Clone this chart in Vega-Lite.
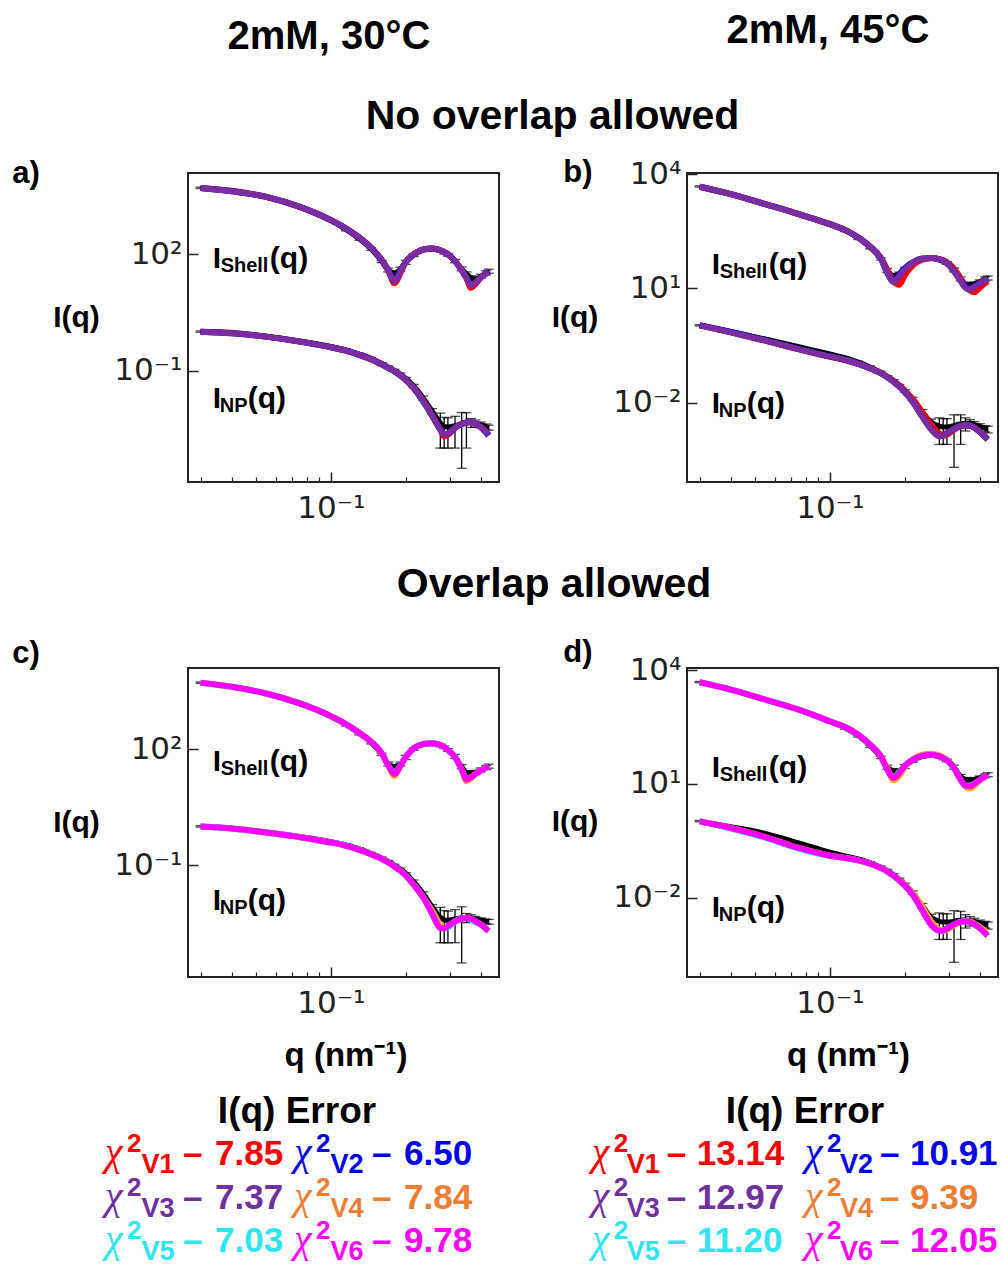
{
  "$schema": "https://vega.github.io/schema/vega-lite/v6.json",
  "background": "white",
  "padding": {"left": 10, "top": 9, "right": 2, "bottom": 2},
  "config": {
    "view": {"stroke": "#222", "strokeWidth": 2},
    "axis": {"grid": false, "domain": false, "labelFont": "DejaVu Sans", "labelFontSize": 31, "labelColor": "#222", "tickColor": "#222", "titleFont": "Liberation Sans", "titleFontWeight": "bold", "titleColor": "black", "titleLimit": 1000, "labelOverlap": false, "labelFlush": false, "labelBound": false},
    "text": {"font": "Liberation Sans", "fontWeight": "bold", "color": "black"}
  },
  "datasets": {
    "a": [
      {"c":"S","s":"V1","q":0.03,"I":5224},{"c":"S","s":"V1","q":0.04,"I":4400},{"c":"S","s":"V1","q":0.055,"I":3062},{"c":"S","s":"V1","q":0.075,"I":1694},{"c":"S","s":"V1","q":0.1,"I":767},{"c":"S","s":"V1","q":0.115,"I":468},{"c":"S","s":"V1","q":0.13,"I":274},{"c":"S","s":"V1","q":0.145,"I":151},{"c":"S","s":"V1","q":0.16,"I":71.4},{"c":"S","s":"V1","q":0.17,"I":37.5},{"c":"S","s":"V1","q":0.18,"I":18},{"c":"S","s":"V1","q":0.19,"I":32.5},{"c":"S","s":"V1","q":0.2,"I":64.7},{"c":"S","s":"V1","q":0.215,"I":100},{"c":"S","s":"V1","q":0.235,"I":135},{"c":"S","s":"V1","q":0.255,"I":143},{"c":"S","s":"V1","q":0.275,"I":129},{"c":"S","s":"V1","q":0.285,"I":115},{"c":"S","s":"V1","q":0.295,"I":100},{"c":"S","s":"V1","q":0.315,"I":67.3},{"c":"S","s":"V1","q":0.335,"I":39.4},{"c":"S","s":"V1","q":0.35,"I":24},{"c":"S","s":"V1","q":0.365,"I":13.8},{"c":"S","s":"V1","q":0.38,"I":17},{"c":"S","s":"V1","q":0.4,"I":25.5},{"c":"S","s":"V1","q":0.42,"I":32.4},{"c":"S","s":"V1","q":0.43,"I":35.7},
      {"c":"S","s":"V2","q":0.03,"I":5224},{"c":"S","s":"V2","q":0.04,"I":4285},{"c":"S","s":"V2","q":0.055,"I":3062},{"c":"S","s":"V2","q":0.075,"I":1694},{"c":"S","s":"V2","q":0.1,"I":767},{"c":"S","s":"V2","q":0.115,"I":468},{"c":"S","s":"V2","q":0.13,"I":274},{"c":"S","s":"V2","q":0.145,"I":151},{"c":"S","s":"V2","q":0.16,"I":71.4},{"c":"S","s":"V2","q":0.17,"I":39.4},{"c":"S","s":"V2","q":0.18,"I":21.5},{"c":"S","s":"V2","q":0.19,"I":38.5},{"c":"S","s":"V2","q":0.2,"I":64.7},{"c":"S","s":"V2","q":0.215,"I":100},{"c":"S","s":"V2","q":0.235,"I":135},{"c":"S","s":"V2","q":0.255,"I":143},{"c":"S","s":"V2","q":0.275,"I":129},{"c":"S","s":"V2","q":0.285,"I":115},{"c":"S","s":"V2","q":0.295,"I":100},{"c":"S","s":"V2","q":0.315,"I":67.3},{"c":"S","s":"V2","q":0.335,"I":39.4},{"c":"S","s":"V2","q":0.35,"I":25.5},{"c":"S","s":"V2","q":0.365,"I":16.8},{"c":"S","s":"V2","q":0.38,"I":18.6},{"c":"S","s":"V2","q":0.4,"I":25.5},{"c":"S","s":"V2","q":0.42,"I":32.4},{"c":"S","s":"V2","q":0.43,"I":37},
      {"c":"S","s":"V3","q":0.03,"I":5224},{"c":"S","s":"V3","q":0.04,"I":4285},{"c":"S","s":"V3","q":0.055,"I":3062},{"c":"S","s":"V3","q":0.075,"I":1694},{"c":"S","s":"V3","q":0.1,"I":767},{"c":"S","s":"V3","q":0.115,"I":468},{"c":"S","s":"V3","q":0.13,"I":274},{"c":"S","s":"V3","q":0.145,"I":151},{"c":"S","s":"V3","q":0.16,"I":71.4},{"c":"S","s":"V3","q":0.17,"I":39.4},{"c":"S","s":"V3","q":0.18,"I":20.4},{"c":"S","s":"V3","q":0.19,"I":35.7},{"c":"S","s":"V3","q":0.2,"I":64.7},{"c":"S","s":"V3","q":0.215,"I":100},{"c":"S","s":"V3","q":0.235,"I":135},{"c":"S","s":"V3","q":0.255,"I":143},{"c":"S","s":"V3","q":0.275,"I":129},{"c":"S","s":"V3","q":0.285,"I":115},{"c":"S","s":"V3","q":0.295,"I":100},{"c":"S","s":"V3","q":0.315,"I":67.3},{"c":"S","s":"V3","q":0.335,"I":39.4},{"c":"S","s":"V3","q":0.35,"I":25.5},{"c":"S","s":"V3","q":0.365,"I":15.8},{"c":"S","s":"V3","q":0.38,"I":18.6},{"c":"S","s":"V3","q":0.4,"I":25.5},{"c":"S","s":"V3","q":0.42,"I":32.4},{"c":"S","s":"V3","q":0.43,"I":35.7},
      {"c":"S","s":"exp","q":0.03,"I":5250,"e":210},{"c":"S","s":"exp","q":0.04,"I":4300,"e":172},{"c":"S","s":"exp","q":0.055,"I":3050,"e":122},{"c":"S","s":"exp","q":0.075,"I":1690,"e":68},{"c":"S","s":"exp","q":0.1,"I":745,"e":30},{"c":"S","s":"exp","q":0.115,"I":437,"e":31},{"c":"S","s":"exp","q":0.13,"I":251,"e":18},{"c":"S","s":"exp","q":0.145,"I":138,"e":10},{"c":"S","s":"exp","q":0.16,"I":66,"e":4.6},{"c":"S","s":"exp","q":0.17,"I":40,"e":4.8},{"c":"S","s":"exp","q":0.18,"I":33,"e":4},{"c":"S","s":"exp","q":0.19,"I":41.7,"e":5},{"c":"S","s":"exp","q":0.2,"I":63,"e":7.6},{"c":"S","s":"exp","q":0.215,"I":95.5,"e":7.6},{"c":"S","s":"exp","q":0.235,"I":129,"e":10.3},{"c":"S","s":"exp","q":0.255,"I":138,"e":11},{"c":"S","s":"exp","q":0.275,"I":126,"e":10},{"c":"S","s":"exp","q":0.285,"I":112,"e":9},{"c":"S","s":"exp","q":0.295,"I":98,"e":7.8},{"c":"S","s":"exp","q":0.315,"I":67.6,"e":6.8},{"c":"S","s":"exp","q":0.335,"I":42.7,"e":5.1},{"c":"S","s":"exp","q":0.35,"I":31.6,"e":3.8},{"c":"S","s":"exp","q":0.365,"I":25.1,"e":3},{"c":"S","s":"exp","q":0.38,"I":23.4,"e":2.8},{"c":"S","s":"exp","q":0.4,"I":27.5,"e":3.3},{"c":"S","s":"exp","q":0.42,"I":33.9,"e":4.1},{"c":"S","s":"exp","q":0.43,"I":37.2,"e":4.5},
      {"c":"N","s":"V1","q":0.03,"I":1.016},{"c":"N","s":"V1","q":0.04,"I":0.95},{"c":"N","s":"V1","q":0.055,"I":0.755},{"c":"N","s":"V1","q":0.075,"I":0.561},{"c":"N","s":"V1","q":0.1,"I":0.401},{"c":"N","s":"V1","q":0.115,"I":0.329},{"c":"N","s":"V1","q":0.13,"I":0.255},{"c":"N","s":"V1","q":0.145,"I":0.197},{"c":"N","s":"V1","q":0.16,"I":0.1445},{"c":"N","s":"V1","q":0.17,"I":0.1175},{"c":"N","s":"V1","q":0.18,"I":0.0955},{"c":"N","s":"V1","q":0.19,"I":0.0759},{"c":"N","s":"V1","q":0.2,"I":0.0575},{"c":"N","s":"V1","q":0.215,"I":0.0355},{"c":"N","s":"V1","q":0.235,"I":0.0166},{"c":"N","s":"V1","q":0.255,"I":0.00692},{"c":"N","s":"V1","q":0.275,"I":0.00302},{"c":"N","s":"V1","q":0.285,"I":0.002},{"c":"N","s":"V1","q":0.295,"I":0.0022},{"c":"N","s":"V1","q":0.315,"I":0.00331},{"c":"N","s":"V1","q":0.335,"I":0.00417},{"c":"N","s":"V1","q":0.35,"I":0.00457},{"c":"N","s":"V1","q":0.365,"I":0.00468},{"c":"N","s":"V1","q":0.38,"I":0.00437},{"c":"N","s":"V1","q":0.4,"I":0.00347},{"c":"N","s":"V1","q":0.42,"I":0.00263},{"c":"N","s":"V1","q":0.43,"I":0.00224},
      {"c":"N","s":"V2","q":0.03,"I":1.016},{"c":"N","s":"V2","q":0.04,"I":0.92},{"c":"N","s":"V2","q":0.055,"I":0.755},{"c":"N","s":"V2","q":0.075,"I":0.561},{"c":"N","s":"V2","q":0.1,"I":0.401},{"c":"N","s":"V2","q":0.115,"I":0.329},{"c":"N","s":"V2","q":0.13,"I":0.255},{"c":"N","s":"V2","q":0.145,"I":0.197},{"c":"N","s":"V2","q":0.16,"I":0.1445},{"c":"N","s":"V2","q":0.17,"I":0.1175},{"c":"N","s":"V2","q":0.18,"I":0.0955},{"c":"N","s":"V2","q":0.19,"I":0.0759},{"c":"N","s":"V2","q":0.2,"I":0.0575},{"c":"N","s":"V2","q":0.215,"I":0.0355},{"c":"N","s":"V2","q":0.235,"I":0.0158},{"c":"N","s":"V2","q":0.255,"I":0.00692},{"c":"N","s":"V2","q":0.275,"I":0.00302},{"c":"N","s":"V2","q":0.285,"I":0.00224},{"c":"N","s":"V2","q":0.295,"I":0.0024},{"c":"N","s":"V2","q":0.315,"I":0.00331},{"c":"N","s":"V2","q":0.335,"I":0.00417},{"c":"N","s":"V2","q":0.35,"I":0.00457},{"c":"N","s":"V2","q":0.365,"I":0.00468},{"c":"N","s":"V2","q":0.38,"I":0.00437},{"c":"N","s":"V2","q":0.4,"I":0.00347},{"c":"N","s":"V2","q":0.42,"I":0.0025},{"c":"N","s":"V2","q":0.43,"I":0.0021},
      {"c":"N","s":"V3","q":0.03,"I":1.016},{"c":"N","s":"V3","q":0.04,"I":0.92},{"c":"N","s":"V3","q":0.055,"I":0.755},{"c":"N","s":"V3","q":0.075,"I":0.561},{"c":"N","s":"V3","q":0.1,"I":0.401},{"c":"N","s":"V3","q":0.115,"I":0.329},{"c":"N","s":"V3","q":0.13,"I":0.255},{"c":"N","s":"V3","q":0.145,"I":0.197},{"c":"N","s":"V3","q":0.16,"I":0.1445},{"c":"N","s":"V3","q":0.17,"I":0.1175},{"c":"N","s":"V3","q":0.18,"I":0.0955},{"c":"N","s":"V3","q":0.19,"I":0.0759},{"c":"N","s":"V3","q":0.2,"I":0.0575},{"c":"N","s":"V3","q":0.215,"I":0.0355},{"c":"N","s":"V3","q":0.235,"I":0.0166},{"c":"N","s":"V3","q":0.255,"I":0.00692},{"c":"N","s":"V3","q":0.275,"I":0.00302},{"c":"N","s":"V3","q":0.285,"I":0.00224},{"c":"N","s":"V3","q":0.295,"I":0.0024},{"c":"N","s":"V3","q":0.315,"I":0.00331},{"c":"N","s":"V3","q":0.335,"I":0.00417},{"c":"N","s":"V3","q":0.35,"I":0.00457},{"c":"N","s":"V3","q":0.365,"I":0.00468},{"c":"N","s":"V3","q":0.38,"I":0.00437},{"c":"N","s":"V3","q":0.4,"I":0.00347},{"c":"N","s":"V3","q":0.42,"I":0.00263},{"c":"N","s":"V3","q":0.43,"I":0.00224},
      {"c":"N","s":"exp","q":0.03,"I":1.02,"e":0.041},{"c":"N","s":"exp","q":0.04,"I":0.93,"e":0.037},{"c":"N","s":"exp","q":0.055,"I":0.77,"e":0.031},{"c":"N","s":"exp","q":0.075,"I":0.58,"e":0.023},{"c":"N","s":"exp","q":0.1,"I":0.42,"e":0.017},{"c":"N","s":"exp","q":0.115,"I":0.345,"e":0.021},{"c":"N","s":"exp","q":0.13,"I":0.268,"e":0.016},{"c":"N","s":"exp","q":0.145,"I":0.207,"e":0.012},{"c":"N","s":"exp","q":0.16,"I":0.152,"e":0.009},{"c":"N","s":"exp","q":0.17,"I":0.125,"e":0.0075},{"c":"N","s":"exp","q":0.18,"I":0.102,"e":0.006},{"c":"N","s":"exp","q":0.19,"I":0.082,"e":0.005},{"c":"N","s":"exp","q":0.2,"I":0.063,"e":0.0038},{"c":"N","s":"exp","q":0.215,"I":0.04,"e":0.004},{"c":"N","s":"exp","q":0.235,"I":0.0195,"e":0.0025},{"c":"N","s":"exp","q":0.255,"I":0.009,"e":0.0014},{"c":"N","s":"exp","q":0.275,"I":0.0045,"e":0.0035},{"c":"N","s":"exp","q":0.285,"I":0.0036,"e":0.0026},{"c":"N","s":"exp","q":0.295,"I":0.0035,"e":0.0025},{"c":"N","s":"exp","q":0.315,"I":0.0038,"e":0.0028},{"c":"N","s":"exp","q":0.335,"I":0.0043,"e":0.004},{"c":"N","s":"exp","q":0.35,"I":0.0046,"e":0.0036},{"c":"N","s":"exp","q":0.365,"I":0.0046,"e":0.0012},{"c":"N","s":"exp","q":0.38,"I":0.0044,"e":0.0009},{"c":"N","s":"exp","q":0.4,"I":0.004,"e":0.0007},{"c":"N","s":"exp","q":0.42,"I":0.0036,"e":0.0006},{"c":"N","s":"exp","q":0.43,"I":0.0034,"e":0.0005}
    ],
    "b": [
      {"c":"S","s":"V1","q":0.03,"I":4721},{"c":"S","s":"V1","q":0.04,"I":3020},{"c":"S","s":"V1","q":0.055,"I":1644},{"c":"S","s":"V1","q":0.075,"I":897},{"c":"S","s":"V1","q":0.1,"I":489},{"c":"S","s":"V1","q":0.115,"I":347},{"c":"S","s":"V1","q":0.13,"I":219},{"c":"S","s":"V1","q":0.145,"I":126},{"c":"S","s":"V1","q":0.16,"I":65},{"c":"S","s":"V1","q":0.17,"I":31.6},{"c":"S","s":"V1","q":0.18,"I":15.5},{"c":"S","s":"V1","q":0.19,"I":12.6},{"c":"S","s":"V1","q":0.2,"I":22.4},{"c":"S","s":"V1","q":0.215,"I":40},{"c":"S","s":"V1","q":0.235,"I":57},{"c":"S","s":"V1","q":0.255,"I":62},{"c":"S","s":"V1","q":0.275,"I":59.5},{"c":"S","s":"V1","q":0.285,"I":55},{"c":"S","s":"V1","q":0.295,"I":49},{"c":"S","s":"V1","q":0.315,"I":33},{"c":"S","s":"V1","q":0.335,"I":18.5},{"c":"S","s":"V1","q":0.35,"I":11.5},{"c":"S","s":"V1","q":0.365,"I":8.9},{"c":"S","s":"V1","q":0.38,"I":8},{"c":"S","s":"V1","q":0.4,"I":10.5},{"c":"S","s":"V1","q":0.42,"I":13.8},{"c":"S","s":"V1","q":0.43,"I":15.5},
      {"c":"S","s":"V2","q":0.03,"I":4721},{"c":"S","s":"V2","q":0.04,"I":3020},{"c":"S","s":"V2","q":0.055,"I":1644},{"c":"S","s":"V2","q":0.075,"I":897},{"c":"S","s":"V2","q":0.1,"I":489},{"c":"S","s":"V2","q":0.115,"I":347},{"c":"S","s":"V2","q":0.13,"I":219},{"c":"S","s":"V2","q":0.145,"I":126},{"c":"S","s":"V2","q":0.16,"I":62},{"c":"S","s":"V2","q":0.17,"I":26},{"c":"S","s":"V2","q":0.18,"I":15.5},{"c":"S","s":"V2","q":0.19,"I":24},{"c":"S","s":"V2","q":0.2,"I":34},{"c":"S","s":"V2","q":0.215,"I":48.5},{"c":"S","s":"V2","q":0.235,"I":61},{"c":"S","s":"V2","q":0.255,"I":63.1},{"c":"S","s":"V2","q":0.275,"I":58.2},{"c":"S","s":"V2","q":0.285,"I":52.5},{"c":"S","s":"V2","q":0.295,"I":45.7},{"c":"S","s":"V2","q":0.315,"I":28.6},{"c":"S","s":"V2","q":0.335,"I":16},{"c":"S","s":"V2","q":0.35,"I":11.2},{"c":"S","s":"V2","q":0.365,"I":10},{"c":"S","s":"V2","q":0.38,"I":11.5},{"c":"S","s":"V2","q":0.4,"I":13.8},{"c":"S","s":"V2","q":0.42,"I":16.8},{"c":"S","s":"V2","q":0.43,"I":18.2},
      {"c":"S","s":"V3","q":0.03,"I":4721},{"c":"S","s":"V3","q":0.04,"I":3020},{"c":"S","s":"V3","q":0.055,"I":1644},{"c":"S","s":"V3","q":0.075,"I":897},{"c":"S","s":"V3","q":0.1,"I":489},{"c":"S","s":"V3","q":0.115,"I":347},{"c":"S","s":"V3","q":0.13,"I":219},{"c":"S","s":"V3","q":0.145,"I":126},{"c":"S","s":"V3","q":0.16,"I":63.1},{"c":"S","s":"V3","q":0.17,"I":26.3},{"c":"S","s":"V3","q":0.18,"I":14.5},{"c":"S","s":"V3","q":0.19,"I":21.4},{"c":"S","s":"V3","q":0.2,"I":31.6},{"c":"S","s":"V3","q":0.215,"I":47.5},{"c":"S","s":"V3","q":0.235,"I":60.7},{"c":"S","s":"V3","q":0.255,"I":63.1},{"c":"S","s":"V3","q":0.275,"I":58.2},{"c":"S","s":"V3","q":0.285,"I":52.5},{"c":"S","s":"V3","q":0.295,"I":45.7},{"c":"S","s":"V3","q":0.315,"I":28.6},{"c":"S","s":"V3","q":0.335,"I":15.6},{"c":"S","s":"V3","q":0.35,"I":10.5},{"c":"S","s":"V3","q":0.365,"I":9.33},{"c":"S","s":"V3","q":0.38,"I":11.1},{"c":"S","s":"V3","q":0.4,"I":13.6},{"c":"S","s":"V3","q":0.42,"I":16.6},{"c":"S","s":"V3","q":0.43,"I":18},
      {"c":"S","s":"exp","q":0.03,"I":4800,"e":190},{"c":"S","s":"exp","q":0.04,"I":3050,"e":120},{"c":"S","s":"exp","q":0.055,"I":1660,"e":66},{"c":"S","s":"exp","q":0.075,"I":905,"e":36},{"c":"S","s":"exp","q":0.1,"I":480,"e":19},{"c":"S","s":"exp","q":0.115,"I":335,"e":23},{"c":"S","s":"exp","q":0.13,"I":208,"e":15},{"c":"S","s":"exp","q":0.145,"I":118,"e":8},{"c":"S","s":"exp","q":0.16,"I":60,"e":4.2},{"c":"S","s":"exp","q":0.17,"I":30,"e":3.6},{"c":"S","s":"exp","q":0.18,"I":22,"e":2.6},{"c":"S","s":"exp","q":0.19,"I":24,"e":2.9},{"c":"S","s":"exp","q":0.2,"I":32,"e":3.8},{"c":"S","s":"exp","q":0.215,"I":46,"e":3.7},{"c":"S","s":"exp","q":0.235,"I":59,"e":4.7},{"c":"S","s":"exp","q":0.255,"I":62,"e":5},{"c":"S","s":"exp","q":0.275,"I":58,"e":4.6},{"c":"S","s":"exp","q":0.285,"I":53,"e":4.2},{"c":"S","s":"exp","q":0.295,"I":47,"e":3.8},{"c":"S","s":"exp","q":0.315,"I":31,"e":3.7},{"c":"S","s":"exp","q":0.335,"I":18,"e":2.2},{"c":"S","s":"exp","q":0.35,"I":13,"e":1.6},{"c":"S","s":"exp","q":0.365,"I":12.5,"e":1.5},{"c":"S","s":"exp","q":0.38,"I":13.2,"e":1.6},{"c":"S","s":"exp","q":0.4,"I":15,"e":1.8},{"c":"S","s":"exp","q":0.42,"I":18,"e":2.2},{"c":"S","s":"exp","q":0.43,"I":19,"e":2.3},
      {"c":"N","s":"V1","q":0.03,"I":1.079},{"c":"N","s":"V1","q":0.04,"I":0.705},{"c":"N","s":"V1","q":0.055,"I":0.425},{"c":"N","s":"V1","q":0.075,"I":0.25},{"c":"N","s":"V1","q":0.1,"I":0.16},{"c":"N","s":"V1","q":0.115,"I":0.132},{"c":"N","s":"V1","q":0.13,"I":0.104},{"c":"N","s":"V1","q":0.145,"I":0.0807},{"c":"N","s":"V1","q":0.16,"I":0.0605},{"c":"N","s":"V1","q":0.17,"I":0.048},{"c":"N","s":"V1","q":0.18,"I":0.0375},{"c":"N","s":"V1","q":0.19,"I":0.0285},{"c":"N","s":"V1","q":0.2,"I":0.0205},{"c":"N","s":"V1","q":0.215,"I":0.0125},{"c":"N","s":"V1","q":0.235,"I":0.0056},{"c":"N","s":"V1","q":0.255,"I":0.0026},{"c":"N","s":"V1","q":0.275,"I":0.00155},{"c":"N","s":"V1","q":0.285,"I":0.00135},{"c":"N","s":"V1","q":0.295,"I":0.00145},{"c":"N","s":"V1","q":0.315,"I":0.00195},{"c":"N","s":"V1","q":0.335,"I":0.0024},{"c":"N","s":"V1","q":0.35,"I":0.00255},{"c":"N","s":"V1","q":0.365,"I":0.0025},{"c":"N","s":"V1","q":0.38,"I":0.0022},{"c":"N","s":"V1","q":0.4,"I":0.00172},{"c":"N","s":"V1","q":0.42,"I":0.00128},{"c":"N","s":"V1","q":0.43,"I":0.0011},
      {"c":"N","s":"V2","q":0.03,"I":1.079},{"c":"N","s":"V2","q":0.04,"I":0.72},{"c":"N","s":"V2","q":0.055,"I":0.435},{"c":"N","s":"V2","q":0.075,"I":0.258},{"c":"N","s":"V2","q":0.1,"I":0.164},{"c":"N","s":"V2","q":0.115,"I":0.134},{"c":"N","s":"V2","q":0.13,"I":0.105},{"c":"N","s":"V2","q":0.145,"I":0.0807},{"c":"N","s":"V2","q":0.16,"I":0.0596},{"c":"N","s":"V2","q":0.17,"I":0.0467},{"c":"N","s":"V2","q":0.18,"I":0.0359},{"c":"N","s":"V2","q":0.19,"I":0.0265},{"c":"N","s":"V2","q":0.2,"I":0.0188},{"c":"N","s":"V2","q":0.215,"I":0.01064},{"c":"N","s":"V2","q":0.235,"I":0.00428},{"c":"N","s":"V2","q":0.255,"I":0.002},{"c":"N","s":"V2","q":0.275,"I":0.00132},{"c":"N","s":"V2","q":0.285,"I":0.00138},{"c":"N","s":"V2","q":0.295,"I":0.00158},{"c":"N","s":"V2","q":0.315,"I":0.00204},{"c":"N","s":"V2","q":0.335,"I":0.00245},{"c":"N","s":"V2","q":0.35,"I":0.00257},{"c":"N","s":"V2","q":0.365,"I":0.00251},{"c":"N","s":"V2","q":0.38,"I":0.00219},{"c":"N","s":"V2","q":0.4,"I":0.0017},{"c":"N","s":"V2","q":0.42,"I":0.00126},{"c":"N","s":"V2","q":0.43,"I":0.00107},
      {"c":"N","s":"V3","q":0.03,"I":1.079},{"c":"N","s":"V3","q":0.04,"I":0.705},{"c":"N","s":"V3","q":0.055,"I":0.425},{"c":"N","s":"V3","q":0.075,"I":0.256},{"c":"N","s":"V3","q":0.1,"I":0.164},{"c":"N","s":"V3","q":0.115,"I":0.134},{"c":"N","s":"V3","q":0.13,"I":0.105},{"c":"N","s":"V3","q":0.145,"I":0.0807},{"c":"N","s":"V3","q":0.16,"I":0.0596},{"c":"N","s":"V3","q":0.17,"I":0.0467},{"c":"N","s":"V3","q":0.18,"I":0.0359},{"c":"N","s":"V3","q":0.19,"I":0.0265},{"c":"N","s":"V3","q":0.2,"I":0.0188},{"c":"N","s":"V3","q":0.215,"I":0.01064},{"c":"N","s":"V3","q":0.235,"I":0.00428},{"c":"N","s":"V3","q":0.255,"I":0.002},{"c":"N","s":"V3","q":0.275,"I":0.00132},{"c":"N","s":"V3","q":0.285,"I":0.00138},{"c":"N","s":"V3","q":0.295,"I":0.00158},{"c":"N","s":"V3","q":0.315,"I":0.00204},{"c":"N","s":"V3","q":0.335,"I":0.00245},{"c":"N","s":"V3","q":0.35,"I":0.00257},{"c":"N","s":"V3","q":0.365,"I":0.00251},{"c":"N","s":"V3","q":0.38,"I":0.00219},{"c":"N","s":"V3","q":0.4,"I":0.0017},{"c":"N","s":"V3","q":0.42,"I":0.00126},{"c":"N","s":"V3","q":0.43,"I":0.00107},
      {"c":"N","s":"exp","q":0.03,"I":1.08,"e":0.043},{"c":"N","s":"exp","q":0.04,"I":0.74,"e":0.03},{"c":"N","s":"exp","q":0.055,"I":0.47,"e":0.019},{"c":"N","s":"exp","q":0.075,"I":0.295,"e":0.012},{"c":"N","s":"exp","q":0.1,"I":0.19,"e":0.008},{"c":"N","s":"exp","q":0.115,"I":0.152,"e":0.009},{"c":"N","s":"exp","q":0.13,"I":0.116,"e":0.007},{"c":"N","s":"exp","q":0.145,"I":0.087,"e":0.005},{"c":"N","s":"exp","q":0.16,"I":0.063,"e":0.0038},{"c":"N","s":"exp","q":0.17,"I":0.049,"e":0.003},{"c":"N","s":"exp","q":0.18,"I":0.038,"e":0.0023},{"c":"N","s":"exp","q":0.19,"I":0.0285,"e":0.0017},{"c":"N","s":"exp","q":0.2,"I":0.0205,"e":0.0014},{"c":"N","s":"exp","q":0.215,"I":0.0125,"e":0.0013},{"c":"N","s":"exp","q":0.235,"I":0.0058,"e":0.0008},{"c":"N","s":"exp","q":0.255,"I":0.0031,"e":0.0006},{"c":"N","s":"exp","q":0.275,"I":0.0024,"e":0.0016},{"c":"N","s":"exp","q":0.285,"I":0.0023,"e":0.0015},{"c":"N","s":"exp","q":0.295,"I":0.0023,"e":0.0015},{"c":"N","s":"exp","q":0.315,"I":0.0025,"e":0.0023},{"c":"N","s":"exp","q":0.335,"I":0.0028,"e":0.002},{"c":"N","s":"exp","q":0.35,"I":0.0029,"e":0.0011},{"c":"N","s":"exp","q":0.365,"I":0.0029,"e":0.0007},{"c":"N","s":"exp","q":0.38,"I":0.0027,"e":0.0005},{"c":"N","s":"exp","q":0.4,"I":0.0024,"e":0.0004},{"c":"N","s":"exp","q":0.42,"I":0.0021,"e":0.0004},{"c":"N","s":"exp","q":0.43,"I":0.002,"e":0.0004}
    ],
    "c": [
      {"c":"S","s":"V4","q":0.03,"I":5248},{"c":"S","s":"V4","q":0.04,"I":4140},{"c":"S","s":"V4","q":0.055,"I":2780},{"c":"S","s":"V4","q":0.075,"I":1538},{"c":"S","s":"V4","q":0.1,"I":724},{"c":"S","s":"V4","q":0.115,"I":450},{"c":"S","s":"V4","q":0.13,"I":269},{"c":"S","s":"V4","q":0.145,"I":158},{"c":"S","s":"V4","q":0.16,"I":78.9},{"c":"S","s":"V4","q":0.17,"I":38},{"c":"S","s":"V4","q":0.18,"I":20.5},{"c":"S","s":"V4","q":0.19,"I":37.2},{"c":"S","s":"V4","q":0.2,"I":64.6},{"c":"S","s":"V4","q":0.215,"I":106},{"c":"S","s":"V4","q":0.235,"I":137},{"c":"S","s":"V4","q":0.255,"I":143},{"c":"S","s":"V4","q":0.275,"I":129},{"c":"S","s":"V4","q":0.285,"I":115},{"c":"S","s":"V4","q":0.295,"I":96.2},{"c":"S","s":"V4","q":0.315,"I":62.2},{"c":"S","s":"V4","q":0.335,"I":30.2},{"c":"S","s":"V4","q":0.35,"I":15},{"c":"S","s":"V4","q":0.365,"I":17.5},{"c":"S","s":"V4","q":0.38,"I":22.9},{"c":"S","s":"V4","q":0.4,"I":28.2},{"c":"S","s":"V4","q":0.42,"I":33.9},{"c":"S","s":"V4","q":0.43,"I":37.2},
      {"c":"S","s":"V5","q":0.03,"I":5248},{"c":"S","s":"V5","q":0.04,"I":4140},{"c":"S","s":"V5","q":0.055,"I":2780},{"c":"S","s":"V5","q":0.075,"I":1538},{"c":"S","s":"V5","q":0.1,"I":724},{"c":"S","s":"V5","q":0.115,"I":450},{"c":"S","s":"V5","q":0.13,"I":269},{"c":"S","s":"V5","q":0.145,"I":158},{"c":"S","s":"V5","q":0.16,"I":78.9},{"c":"S","s":"V5","q":0.17,"I":38},{"c":"S","s":"V5","q":0.18,"I":25},{"c":"S","s":"V5","q":0.19,"I":39},{"c":"S","s":"V5","q":0.2,"I":64.6},{"c":"S","s":"V5","q":0.215,"I":106},{"c":"S","s":"V5","q":0.235,"I":137},{"c":"S","s":"V5","q":0.255,"I":143},{"c":"S","s":"V5","q":0.275,"I":129},{"c":"S","s":"V5","q":0.285,"I":115},{"c":"S","s":"V5","q":0.295,"I":96.2},{"c":"S","s":"V5","q":0.315,"I":62.2},{"c":"S","s":"V5","q":0.335,"I":30.2},{"c":"S","s":"V5","q":0.35,"I":17.8},{"c":"S","s":"V5","q":0.365,"I":19.1},{"c":"S","s":"V5","q":0.38,"I":22.9},{"c":"S","s":"V5","q":0.4,"I":28.2},{"c":"S","s":"V5","q":0.42,"I":33.9},{"c":"S","s":"V5","q":0.43,"I":37.2},
      {"c":"S","s":"V6","q":0.03,"I":5248},{"c":"S","s":"V6","q":0.04,"I":4140},{"c":"S","s":"V6","q":0.055,"I":2780},{"c":"S","s":"V6","q":0.075,"I":1538},{"c":"S","s":"V6","q":0.1,"I":724},{"c":"S","s":"V6","q":0.115,"I":450},{"c":"S","s":"V6","q":0.13,"I":269},{"c":"S","s":"V6","q":0.145,"I":158},{"c":"S","s":"V6","q":0.16,"I":78.9},{"c":"S","s":"V6","q":0.17,"I":38},{"c":"S","s":"V6","q":0.18,"I":22.9},{"c":"S","s":"V6","q":0.19,"I":37.2},{"c":"S","s":"V6","q":0.2,"I":64.6},{"c":"S","s":"V6","q":0.215,"I":106},{"c":"S","s":"V6","q":0.235,"I":137},{"c":"S","s":"V6","q":0.255,"I":143},{"c":"S","s":"V6","q":0.275,"I":129},{"c":"S","s":"V6","q":0.285,"I":115},{"c":"S","s":"V6","q":0.295,"I":96.2},{"c":"S","s":"V6","q":0.315,"I":62.2},{"c":"S","s":"V6","q":0.335,"I":30.2},{"c":"S","s":"V6","q":0.35,"I":16.6},{"c":"S","s":"V6","q":0.365,"I":19.1},{"c":"S","s":"V6","q":0.38,"I":22.9},{"c":"S","s":"V6","q":0.4,"I":28.2},{"c":"S","s":"V6","q":0.42,"I":33.9},{"c":"S","s":"V6","q":0.43,"I":37.2},
      {"c":"S","s":"exp","q":0.03,"I":5300,"e":210},{"c":"S","s":"exp","q":0.04,"I":4150,"e":166},{"c":"S","s":"exp","q":0.055,"I":2780,"e":111},{"c":"S","s":"exp","q":0.075,"I":1520,"e":61},{"c":"S","s":"exp","q":0.1,"I":700,"e":28},{"c":"S","s":"exp","q":0.115,"I":430,"e":30},{"c":"S","s":"exp","q":0.13,"I":255,"e":18},{"c":"S","s":"exp","q":0.145,"I":148,"e":10},{"c":"S","s":"exp","q":0.16,"I":74,"e":5.2},{"c":"S","s":"exp","q":0.17,"I":42,"e":5},{"c":"S","s":"exp","q":0.18,"I":36,"e":4.3},{"c":"S","s":"exp","q":0.19,"I":42,"e":5},{"c":"S","s":"exp","q":0.2,"I":62,"e":7.4},{"c":"S","s":"exp","q":0.215,"I":102,"e":8},{"c":"S","s":"exp","q":0.235,"I":133,"e":10.6},{"c":"S","s":"exp","q":0.255,"I":140,"e":11.2},{"c":"S","s":"exp","q":0.275,"I":127,"e":10.2},{"c":"S","s":"exp","q":0.285,"I":114,"e":9.1},{"c":"S","s":"exp","q":0.295,"I":97,"e":7.8},{"c":"S","s":"exp","q":0.315,"I":66,"e":7.9},{"c":"S","s":"exp","q":0.335,"I":36,"e":4.3},{"c":"S","s":"exp","q":0.35,"I":25,"e":3},{"c":"S","s":"exp","q":0.365,"I":24.5,"e":2.9},{"c":"S","s":"exp","q":0.38,"I":25.5,"e":3.1},{"c":"S","s":"exp","q":0.4,"I":29.5,"e":3.5},{"c":"S","s":"exp","q":0.42,"I":34,"e":4.1},{"c":"S","s":"exp","q":0.43,"I":37,"e":4.4},
      {"c":"N","s":"V4","q":0.03,"I":1.012},{"c":"N","s":"V4","q":0.04,"I":0.899},{"c":"N","s":"V4","q":0.055,"I":0.708},{"c":"N","s":"V4","q":0.075,"I":0.537},{"c":"N","s":"V4","q":0.1,"I":0.391},{"c":"N","s":"V4","q":0.115,"I":0.321},{"c":"N","s":"V4","q":0.13,"I":0.253},{"c":"N","s":"V4","q":0.145,"I":0.195},{"c":"N","s":"V4","q":0.16,"I":0.148},{"c":"N","s":"V4","q":0.17,"I":0.119},{"c":"N","s":"V4","q":0.18,"I":0.094},{"c":"N","s":"V4","q":0.19,"I":0.0726},{"c":"N","s":"V4","q":0.2,"I":0.054},{"c":"N","s":"V4","q":0.215,"I":0.0316},{"c":"N","s":"V4","q":0.235,"I":0.0148},{"c":"N","s":"V4","q":0.255,"I":0.0068},{"c":"N","s":"V4","q":0.275,"I":0.0029},{"c":"N","s":"V4","q":0.285,"I":0.0024},{"c":"N","s":"V4","q":0.295,"I":0.00269},{"c":"N","s":"V4","q":0.315,"I":0.00355},{"c":"N","s":"V4","q":0.335,"I":0.00417},{"c":"N","s":"V4","q":0.35,"I":0.00437},{"c":"N","s":"V4","q":0.365,"I":0.00417},{"c":"N","s":"V4","q":0.38,"I":0.00363},{"c":"N","s":"V4","q":0.4,"I":0.00295},{"c":"N","s":"V4","q":0.42,"I":0.00229},{"c":"N","s":"V4","q":0.43,"I":0.002},
      {"c":"N","s":"V5","q":0.03,"I":1.012},{"c":"N","s":"V5","q":0.04,"I":0.899},{"c":"N","s":"V5","q":0.055,"I":0.708},{"c":"N","s":"V5","q":0.075,"I":0.537},{"c":"N","s":"V5","q":0.1,"I":0.391},{"c":"N","s":"V5","q":0.115,"I":0.321},{"c":"N","s":"V5","q":0.13,"I":0.253},{"c":"N","s":"V5","q":0.145,"I":0.195},{"c":"N","s":"V5","q":0.16,"I":0.148},{"c":"N","s":"V5","q":0.17,"I":0.119},{"c":"N","s":"V5","q":0.18,"I":0.094},{"c":"N","s":"V5","q":0.19,"I":0.0726},{"c":"N","s":"V5","q":0.2,"I":0.054},{"c":"N","s":"V5","q":0.215,"I":0.0316},{"c":"N","s":"V5","q":0.235,"I":0.0148},{"c":"N","s":"V5","q":0.255,"I":0.00562},{"c":"N","s":"V5","q":0.275,"I":0.0024},{"c":"N","s":"V5","q":0.285,"I":0.00234},{"c":"N","s":"V5","q":0.295,"I":0.0025},{"c":"N","s":"V5","q":0.315,"I":0.00355},{"c":"N","s":"V5","q":0.335,"I":0.00417},{"c":"N","s":"V5","q":0.35,"I":0.00437},{"c":"N","s":"V5","q":0.365,"I":0.0039},{"c":"N","s":"V5","q":0.38,"I":0.0034},{"c":"N","s":"V5","q":0.4,"I":0.00295},{"c":"N","s":"V5","q":0.42,"I":0.00229},{"c":"N","s":"V5","q":0.43,"I":0.002},
      {"c":"N","s":"V6","q":0.03,"I":1.012},{"c":"N","s":"V6","q":0.04,"I":0.899},{"c":"N","s":"V6","q":0.055,"I":0.708},{"c":"N","s":"V6","q":0.075,"I":0.537},{"c":"N","s":"V6","q":0.1,"I":0.391},{"c":"N","s":"V6","q":0.115,"I":0.321},{"c":"N","s":"V6","q":0.13,"I":0.253},{"c":"N","s":"V6","q":0.145,"I":0.195},{"c":"N","s":"V6","q":0.16,"I":0.148},{"c":"N","s":"V6","q":0.17,"I":0.119},{"c":"N","s":"V6","q":0.18,"I":0.094},{"c":"N","s":"V6","q":0.19,"I":0.0726},{"c":"N","s":"V6","q":0.2,"I":0.054},{"c":"N","s":"V6","q":0.215,"I":0.0316},{"c":"N","s":"V6","q":0.235,"I":0.0148},{"c":"N","s":"V6","q":0.255,"I":0.00562},{"c":"N","s":"V6","q":0.275,"I":0.0024},{"c":"N","s":"V6","q":0.285,"I":0.00234},{"c":"N","s":"V6","q":0.295,"I":0.00269},{"c":"N","s":"V6","q":0.315,"I":0.00355},{"c":"N","s":"V6","q":0.335,"I":0.00417},{"c":"N","s":"V6","q":0.35,"I":0.00437},{"c":"N","s":"V6","q":0.365,"I":0.00417},{"c":"N","s":"V6","q":0.38,"I":0.00363},{"c":"N","s":"V6","q":0.4,"I":0.00295},{"c":"N","s":"V6","q":0.42,"I":0.00229},{"c":"N","s":"V6","q":0.43,"I":0.002},
      {"c":"N","s":"exp","q":0.03,"I":1.02,"e":0.041},{"c":"N","s":"exp","q":0.04,"I":0.91,"e":0.036},{"c":"N","s":"exp","q":0.055,"I":0.73,"e":0.029},{"c":"N","s":"exp","q":0.075,"I":0.56,"e":0.022},{"c":"N","s":"exp","q":0.1,"I":0.41,"e":0.016},{"c":"N","s":"exp","q":0.115,"I":0.338,"e":0.02},{"c":"N","s":"exp","q":0.13,"I":0.266,"e":0.016},{"c":"N","s":"exp","q":0.145,"I":0.205,"e":0.012},{"c":"N","s":"exp","q":0.16,"I":0.155,"e":0.0093},{"c":"N","s":"exp","q":0.17,"I":0.126,"e":0.0076},{"c":"N","s":"exp","q":0.18,"I":0.101,"e":0.006},{"c":"N","s":"exp","q":0.19,"I":0.08,"e":0.0048},{"c":"N","s":"exp","q":0.2,"I":0.061,"e":0.0037},{"c":"N","s":"exp","q":0.215,"I":0.038,"e":0.0038},{"c":"N","s":"exp","q":0.235,"I":0.0185,"e":0.0022},{"c":"N","s":"exp","q":0.255,"I":0.0085,"e":0.0012},{"c":"N","s":"exp","q":0.275,"I":0.0046,"e":0.0036},{"c":"N","s":"exp","q":0.285,"I":0.0039,"e":0.0029},{"c":"N","s":"exp","q":0.295,"I":0.0038,"e":0.0028},{"c":"N","s":"exp","q":0.315,"I":0.0041,"e":0.0031},{"c":"N","s":"exp","q":0.335,"I":0.0044,"e":0.0041},{"c":"N","s":"exp","q":0.35,"I":0.0045,"e":0.0012},{"c":"N","s":"exp","q":0.365,"I":0.0044,"e":0.0009},{"c":"N","s":"exp","q":0.38,"I":0.0041,"e":0.0007},{"c":"N","s":"exp","q":0.4,"I":0.0038,"e":0.0006},{"c":"N","s":"exp","q":0.42,"I":0.0036,"e":0.0005},{"c":"N","s":"exp","q":0.43,"I":0.0035,"e":0.0005}
    ],
    "d": [
      {"c":"S","s":"V4","q":0.03,"I":4786},{"c":"S","s":"V4","q":0.04,"I":3069},{"c":"S","s":"V4","q":0.055,"I":1671},{"c":"S","s":"V4","q":0.075,"I":912},{"c":"S","s":"V4","q":0.1,"I":449},{"c":"S","s":"V4","q":0.115,"I":318},{"c":"S","s":"V4","q":0.13,"I":200},{"c":"S","s":"V4","q":0.145,"I":109},{"c":"S","s":"V4","q":0.16,"I":55},{"c":"S","s":"V4","q":0.17,"I":26},{"c":"S","s":"V4","q":0.18,"I":12.5},{"c":"S","s":"V4","q":0.19,"I":16.5},{"c":"S","s":"V4","q":0.2,"I":28},{"c":"S","s":"V4","q":0.215,"I":44},{"c":"S","s":"V4","q":0.235,"I":59},{"c":"S","s":"V4","q":0.255,"I":63},{"c":"S","s":"V4","q":0.275,"I":57},{"c":"S","s":"V4","q":0.285,"I":50},{"c":"S","s":"V4","q":0.295,"I":43},{"c":"S","s":"V4","q":0.315,"I":26},{"c":"S","s":"V4","q":0.335,"I":12.5},{"c":"S","s":"V4","q":0.35,"I":8.5},{"c":"S","s":"V4","q":0.365,"I":7.6},{"c":"S","s":"V4","q":0.38,"I":9},{"c":"S","s":"V4","q":0.4,"I":12.4},{"c":"S","s":"V4","q":0.42,"I":15.5},{"c":"S","s":"V4","q":0.43,"I":17.2},
      {"c":"S","s":"V5","q":0.03,"I":4786},{"c":"S","s":"V5","q":0.04,"I":3069},{"c":"S","s":"V5","q":0.055,"I":1671},{"c":"S","s":"V5","q":0.075,"I":912},{"c":"S","s":"V5","q":0.1,"I":449},{"c":"S","s":"V5","q":0.115,"I":318},{"c":"S","s":"V5","q":0.13,"I":200},{"c":"S","s":"V5","q":0.145,"I":109},{"c":"S","s":"V5","q":0.16,"I":53.6},{"c":"S","s":"V5","q":0.17,"I":24},{"c":"S","s":"V5","q":0.18,"I":14.5},{"c":"S","s":"V5","q":0.19,"I":21},{"c":"S","s":"V5","q":0.2,"I":30.4},{"c":"S","s":"V5","q":0.215,"I":43.8},{"c":"S","s":"V5","q":0.235,"I":55.8},{"c":"S","s":"V5","q":0.255,"I":59.3},{"c":"S","s":"V5","q":0.275,"I":53.6},{"c":"S","s":"V5","q":0.285,"I":47.9},{"c":"S","s":"V5","q":0.295,"I":42.1},{"c":"S","s":"V5","q":0.315,"I":26.4},{"c":"S","s":"V5","q":0.335,"I":13},{"c":"S","s":"V5","q":0.35,"I":9.04},{"c":"S","s":"V5","q":0.365,"I":9.2},{"c":"S","s":"V5","q":0.38,"I":10.2},{"c":"S","s":"V5","q":0.4,"I":13},{"c":"S","s":"V5","q":0.42,"I":15.9},{"c":"S","s":"V5","q":0.43,"I":17.6},
      {"c":"S","s":"V6","q":0.03,"I":4786},{"c":"S","s":"V6","q":0.04,"I":3069},{"c":"S","s":"V6","q":0.055,"I":1671},{"c":"S","s":"V6","q":0.075,"I":912},{"c":"S","s":"V6","q":0.1,"I":449},{"c":"S","s":"V6","q":0.115,"I":318},{"c":"S","s":"V6","q":0.13,"I":200},{"c":"S","s":"V6","q":0.145,"I":109},{"c":"S","s":"V6","q":0.16,"I":53.6},{"c":"S","s":"V6","q":0.17,"I":24},{"c":"S","s":"V6","q":0.18,"I":14.5},{"c":"S","s":"V6","q":0.19,"I":19.5},{"c":"S","s":"V6","q":0.2,"I":30.4},{"c":"S","s":"V6","q":0.215,"I":43.8},{"c":"S","s":"V6","q":0.235,"I":55.8},{"c":"S","s":"V6","q":0.255,"I":59.3},{"c":"S","s":"V6","q":0.275,"I":53.6},{"c":"S","s":"V6","q":0.285,"I":47.9},{"c":"S","s":"V6","q":0.295,"I":42.1},{"c":"S","s":"V6","q":0.315,"I":26.4},{"c":"S","s":"V6","q":0.335,"I":13},{"c":"S","s":"V6","q":0.35,"I":9.04},{"c":"S","s":"V6","q":0.365,"I":8.67},{"c":"S","s":"V6","q":0.38,"I":10.2},{"c":"S","s":"V6","q":0.4,"I":13},{"c":"S","s":"V6","q":0.42,"I":15.9},{"c":"S","s":"V6","q":0.43,"I":17.6},
      {"c":"S","s":"exp","q":0.03,"I":4850,"e":190},{"c":"S","s":"exp","q":0.04,"I":3090,"e":120},{"c":"S","s":"exp","q":0.055,"I":1680,"e":67},{"c":"S","s":"exp","q":0.075,"I":905,"e":36},{"c":"S","s":"exp","q":0.1,"I":435,"e":17},{"c":"S","s":"exp","q":0.115,"I":300,"e":21},{"c":"S","s":"exp","q":0.13,"I":186,"e":13},{"c":"S","s":"exp","q":0.145,"I":100,"e":7},{"c":"S","s":"exp","q":0.16,"I":50,"e":3.5},{"c":"S","s":"exp","q":0.17,"I":28,"e":3.4},{"c":"S","s":"exp","q":0.18,"I":22.4,"e":2.7},{"c":"S","s":"exp","q":0.19,"I":22.4,"e":2.7},{"c":"S","s":"exp","q":0.2,"I":29,"e":3.5},{"c":"S","s":"exp","q":0.215,"I":41,"e":3.3},{"c":"S","s":"exp","q":0.235,"I":53,"e":4.2},{"c":"S","s":"exp","q":0.255,"I":57,"e":4.6},{"c":"S","s":"exp","q":0.275,"I":52.5,"e":4.2},{"c":"S","s":"exp","q":0.285,"I":47.5,"e":3.8},{"c":"S","s":"exp","q":0.295,"I":42,"e":3.4},{"c":"S","s":"exp","q":0.315,"I":28,"e":3.4},{"c":"S","s":"exp","q":0.335,"I":16,"e":1.9},{"c":"S","s":"exp","q":0.35,"I":13.2,"e":1.6},{"c":"S","s":"exp","q":0.365,"I":12.6,"e":1.5},{"c":"S","s":"exp","q":0.38,"I":13.2,"e":1.6},{"c":"S","s":"exp","q":0.4,"I":14.5,"e":1.7},{"c":"S","s":"exp","q":0.42,"I":16.5,"e":2},{"c":"S","s":"exp","q":0.43,"I":17.8,"e":2.1},
      {"c":"N","s":"V4","q":0.03,"I":1.038},{"c":"N","s":"V4","q":0.04,"I":0.692},{"c":"N","s":"V4","q":0.055,"I":0.401},{"c":"N","s":"V4","q":0.075,"I":0.206},{"c":"N","s":"V4","q":0.1,"I":0.129},{"c":"N","s":"V4","q":0.115,"I":0.112},{"c":"N","s":"V4","q":0.13,"I":0.0973},{"c":"N","s":"V4","q":0.145,"I":0.0794},{"c":"N","s":"V4","q":0.16,"I":0.0615},{"c":"N","s":"V4","q":0.17,"I":0.0505},{"c":"N","s":"V4","q":0.18,"I":0.039},{"c":"N","s":"V4","q":0.19,"I":0.0298},{"c":"N","s":"V4","q":0.2,"I":0.022},{"c":"N","s":"V4","q":0.215,"I":0.0132},{"c":"N","s":"V4","q":0.235,"I":0.0058},{"c":"N","s":"V4","q":0.255,"I":0.0024},{"c":"N","s":"V4","q":0.275,"I":0.00145},{"c":"N","s":"V4","q":0.285,"I":0.00135},{"c":"N","s":"V4","q":0.295,"I":0.00145},{"c":"N","s":"V4","q":0.315,"I":0.0019},{"c":"N","s":"V4","q":0.335,"I":0.0023},{"c":"N","s":"V4","q":0.35,"I":0.00245},{"c":"N","s":"V4","q":0.365,"I":0.0024},{"c":"N","s":"V4","q":0.38,"I":0.0021},{"c":"N","s":"V4","q":0.4,"I":0.0017},{"c":"N","s":"V4","q":0.42,"I":0.00135},{"c":"N","s":"V4","q":0.43,"I":0.00125},
      {"c":"N","s":"V5","q":0.03,"I":1.038},{"c":"N","s":"V5","q":0.04,"I":0.67},{"c":"N","s":"V5","q":0.055,"I":0.385},{"c":"N","s":"V5","q":0.075,"I":0.198},{"c":"N","s":"V5","q":0.1,"I":0.126},{"c":"N","s":"V5","q":0.115,"I":0.112},{"c":"N","s":"V5","q":0.13,"I":0.0973},{"c":"N","s":"V5","q":0.145,"I":0.0794},{"c":"N","s":"V5","q":0.16,"I":0.0611},{"c":"N","s":"V5","q":0.17,"I":0.0499},{"c":"N","s":"V5","q":0.18,"I":0.0383},{"c":"N","s":"V5","q":0.19,"I":0.0288},{"c":"N","s":"V5","q":0.2,"I":0.0209},{"c":"N","s":"V5","q":0.215,"I":0.0121},{"c":"N","s":"V5","q":0.235,"I":0.00468},{"c":"N","s":"V5","q":0.255,"I":0.00196},{"c":"N","s":"V5","q":0.275,"I":0.00136},{"c":"N","s":"V5","q":0.285,"I":0.00138},{"c":"N","s":"V5","q":0.295,"I":0.00155},{"c":"N","s":"V5","q":0.315,"I":0.002},{"c":"N","s":"V5","q":0.335,"I":0.00232},{"c":"N","s":"V5","q":0.35,"I":0.0024},{"c":"N","s":"V5","q":0.365,"I":0.00229},{"c":"N","s":"V5","q":0.38,"I":0.002},{"c":"N","s":"V5","q":0.4,"I":0.00158},{"c":"N","s":"V5","q":0.42,"I":0.00117},{"c":"N","s":"V5","q":0.43,"I":0.001},
      {"c":"N","s":"V6","q":0.03,"I":1.038},{"c":"N","s":"V6","q":0.04,"I":0.692},{"c":"N","s":"V6","q":0.055,"I":0.401},{"c":"N","s":"V6","q":0.075,"I":0.206},{"c":"N","s":"V6","q":0.1,"I":0.129},{"c":"N","s":"V6","q":0.115,"I":0.112},{"c":"N","s":"V6","q":0.13,"I":0.0973},{"c":"N","s":"V6","q":0.145,"I":0.0794},{"c":"N","s":"V6","q":0.16,"I":0.0611},{"c":"N","s":"V6","q":0.17,"I":0.0499},{"c":"N","s":"V6","q":0.18,"I":0.0383},{"c":"N","s":"V6","q":0.19,"I":0.0288},{"c":"N","s":"V6","q":0.2,"I":0.0209},{"c":"N","s":"V6","q":0.215,"I":0.0121},{"c":"N","s":"V6","q":0.235,"I":0.00468},{"c":"N","s":"V6","q":0.255,"I":0.00196},{"c":"N","s":"V6","q":0.275,"I":0.00136},{"c":"N","s":"V6","q":0.285,"I":0.00138},{"c":"N","s":"V6","q":0.295,"I":0.00155},{"c":"N","s":"V6","q":0.315,"I":0.002},{"c":"N","s":"V6","q":0.335,"I":0.00232},{"c":"N","s":"V6","q":0.35,"I":0.0024},{"c":"N","s":"V6","q":0.365,"I":0.00229},{"c":"N","s":"V6","q":0.38,"I":0.002},{"c":"N","s":"V6","q":0.4,"I":0.00158},{"c":"N","s":"V6","q":0.42,"I":0.00117},{"c":"N","s":"V6","q":0.43,"I":0.001},
      {"c":"N","s":"exp","q":0.03,"I":1.05,"e":0.042},{"c":"N","s":"exp","q":0.04,"I":0.75,"e":0.03},{"c":"N","s":"exp","q":0.055,"I":0.5,"e":0.02},{"c":"N","s":"exp","q":0.075,"I":0.28,"e":0.011},{"c":"N","s":"exp","q":0.1,"I":0.16,"e":0.0064},{"c":"N","s":"exp","q":0.115,"I":0.128,"e":0.0077},{"c":"N","s":"exp","q":0.13,"I":0.106,"e":0.0064},{"c":"N","s":"exp","q":0.145,"I":0.085,"e":0.0051},{"c":"N","s":"exp","q":0.16,"I":0.065,"e":0.0039},{"c":"N","s":"exp","q":0.17,"I":0.053,"e":0.0032},{"c":"N","s":"exp","q":0.18,"I":0.041,"e":0.0025},{"c":"N","s":"exp","q":0.19,"I":0.031,"e":0.0019},{"c":"N","s":"exp","q":0.2,"I":0.0228,"e":0.0016},{"c":"N","s":"exp","q":0.215,"I":0.0138,"e":0.0014},{"c":"N","s":"exp","q":0.235,"I":0.0062,"e":0.0009},{"c":"N","s":"exp","q":0.255,"I":0.0031,"e":0.0006},{"c":"N","s":"exp","q":0.275,"I":0.0024,"e":0.0016},{"c":"N","s":"exp","q":0.285,"I":0.0023,"e":0.0015},{"c":"N","s":"exp","q":0.295,"I":0.0023,"e":0.0015},{"c":"N","s":"exp","q":0.315,"I":0.0024,"e":0.0022},{"c":"N","s":"exp","q":0.335,"I":0.0026,"e":0.0018},{"c":"N","s":"exp","q":0.35,"I":0.0026,"e":0.001},{"c":"N","s":"exp","q":0.365,"I":0.0025,"e":0.0007},{"c":"N","s":"exp","q":0.38,"I":0.0024,"e":0.0005},{"c":"N","s":"exp","q":0.4,"I":0.0022,"e":0.0004},{"c":"N","s":"exp","q":0.42,"I":0.002,"e":0.0004},{"c":"N","s":"exp","q":0.43,"I":0.0019,"e":0.0004}
    ],
    "lab": [
      {"p":"a","r":"m","t":"I","q":0.0336,"I":44.4},{"p":"a","r":"s","t":"Shell","q":0.0361,"I":35},{"p":"a","r":"m","t":"(q)","q":0.0569,"I":44.4},
      {"p":"a","r":"m","t":"I","q":0.0336,"I":0.01094},{"p":"a","r":"s","t":"NP","q":0.0358,"I":0.00863},{"p":"a","r":"m","t":"(q)","q":0.0464,"I":0.01094},
      {"p":"b","r":"m","t":"I","q":0.0336,"I":24.4},{"p":"b","r":"s","t":"Shell","q":0.0361,"I":19.2},{"p":"b","r":"m","t":"(q)","q":0.0569,"I":24.4},
      {"p":"b","r":"m","t":"I","q":0.0336,"I":0.00525},{"p":"b","r":"s","t":"NP","q":0.0358,"I":0.00412},{"p":"b","r":"m","t":"(q)","q":0.0464,"I":0.00525},
      {"p":"c","r":"m","t":"I","q":0.0336,"I":27.6},{"p":"c","r":"s","t":"Shell","q":0.0361,"I":21.8},{"p":"c","r":"m","t":"(q)","q":0.0569,"I":27.6},
      {"p":"c","r":"m","t":"I","q":0.0336,"I":0.00692},{"p":"c","r":"s","t":"NP","q":0.0358,"I":0.00546},{"p":"c","r":"m","t":"(q)","q":0.0464,"I":0.00692},
      {"p":"d","r":"m","t":"I","q":0.0336,"I":15.3},{"p":"d","r":"s","t":"Shell","q":0.0361,"I":12},{"p":"d","r":"m","t":"(q)","q":0.0569,"I":15.3},
      {"p":"d","r":"m","t":"I","q":0.0336,"I":0.00306},{"p":"d","r":"s","t":"NP","q":0.0358,"I":0.0024},{"p":"d","r":"m","t":"(q)","q":0.0464,"I":0.00306}
    ],
    "chi": [
      {"b":"30","col":1,"line":1,"v":"V1","chi":7.85},{"b":"30","col":2,"line":1,"v":"V2","chi":6.50},
      {"b":"30","col":1,"line":2,"v":"V3","chi":7.37},{"b":"30","col":2,"line":2,"v":"V4","chi":7.84},
      {"b":"30","col":1,"line":3,"v":"V5","chi":7.03},{"b":"30","col":2,"line":3,"v":"V6","chi":9.78},
      {"b":"45","col":1,"line":1,"v":"V1","chi":13.14},{"b":"45","col":2,"line":1,"v":"V2","chi":10.91},
      {"b":"45","col":1,"line":2,"v":"V3","chi":12.97},{"b":"45","col":2,"line":2,"v":"V4","chi":9.39},
      {"b":"45","col":1,"line":3,"v":"V5","chi":11.20},{"b":"45","col":2,"line":3,"v":"V6","chi":12.05}
    ]
  },
  "columns": 2,
  "spacing": {"row": 186, "column": 188},
  "bounds": "flush",
  "resolve": {"scale": {"color": "independent"}},
  "concat": [
    {
      "width": 311, "height": 309,
      "data": {"name": "a"},
      "resolve": {"axis": {"x": "independent", "y": "independent"}},
      "layer": [
        {"transform": [{"filter": "datum.s == 'exp'"}],
         "mark": {"type": "line", "color": "black", "strokeWidth": 5, "interpolate": "monotone"},
         "encoding": {
           "x": {"field": "q", "type": "quantitative", "scale": {"type": "log", "domain": [0.0267, 0.473], "nice": false},
                 "axis": {"orient": "bottom", "values": [0.1], "labelExpr": "'10⁻¹'", "tickSize": -10, "tickWidth": 1.5, "labelPadding": 21, "title": null}},
           "y": {"field": "I", "type": "quantitative", "scale": {"type": "log", "domain": [0.000133, 12680], "nice": false},
                 "axis": {"orient": "left", "values": [0.1, 100], "labelExpr": "datum.value < 1 ? '10⁻¹' : '10²'", "tickSize": -10, "tickWidth": 1.5, "labelPadding": 16, "title": "I(q)", "titleAngle": 0, "titleX": -112, "titleY": 153.7, "titleAlign": "center", "titleBaseline": "alphabetic", "titleFontSize": 30}},
           "detail": {"field": "c"}}},
        {"transform": [{"filter": "datum.s == 'exp'"}],
         "mark": {"type": "errorbar", "color": "black", "thickness": 1.3, "size": 10, "ticks": true},
         "encoding": {"x": {"field": "q", "type": "quantitative", "axis": null}, "y": {"field": "I", "type": "quantitative", "axis": null}, "yError": {"field": "e"}}},
        {"transform": [{"filter": "datum.s == 'V1'"}],
         "mark": {"type": "line", "strokeWidth": 6, "interpolate": "monotone"},
         "encoding": {
           "x": {"field": "q", "type": "quantitative", "axis": {"orient": "bottom", "values": [0.03, 0.04, 0.05, 0.06, 0.07, 0.08, 0.09, 0.2, 0.3, 0.4], "labels": false, "tickSize": -5, "tickWidth": 1.2, "title": null}},
           "y": {"field": "I", "type": "quantitative", "axis": {"orient": "left", "labels": false, "ticks": false, "title": "a)", "titleAngle": 0, "titleX": -176.3, "titleY": 9, "titleAlign": "left", "titleBaseline": "alphabetic", "titleFontSize": 31}},
           "color": {"field": "s", "type": "nominal", "scale": {"domain": ["V1", "V2", "V3", "V4", "V5", "V6"], "range": ["#ff0000", "#0000ff", "#7a2ca0", "#ffa21f", "#1ee8f5", "#ff00ff"]}, "legend": null},
           "detail": {"field": "c"}}},
        {"transform": [{"filter": "datum.s == 'V2'"}],
         "mark": {"type": "line", "strokeWidth": 6, "interpolate": "monotone"},
         "encoding": {
           "x": {"field": "q", "type": "quantitative", "axis": {"orient": "top", "labels": false, "ticks": false, "title": "2mM, 30°C", "titleX": 140.4, "titleY": -124.7, "titleAlign": "center", "titleBaseline": "alphabetic", "titleFontSize": 40}},
           "y": {"field": "I", "type": "quantitative", "axis": null},
           "color": {"field": "s", "type": "nominal", "scale": {"domain": ["V1", "V2", "V3", "V4", "V5", "V6"], "range": ["#ff0000", "#0000ff", "#7a2ca0", "#ffa21f", "#1ee8f5", "#ff00ff"]}, "legend": null},
           "detail": {"field": "c"}}},
        {"transform": [{"filter": "datum.s == 'V3'"}],
         "mark": {"type": "line", "strokeWidth": 6, "interpolate": "monotone"},
         "encoding": {
           "x": {"field": "q", "type": "quantitative", "axis": {"orient": "top", "labels": false, "ticks": false, "title": "No overlap allowed", "titleX": 364, "titleY": -44.2, "titleAlign": "center", "titleBaseline": "alphabetic", "titleFontSize": 41}},
           "y": {"field": "I", "type": "quantitative", "axis": null},
           "color": {"field": "s", "type": "nominal", "scale": {"domain": ["V1", "V2", "V3", "V4", "V5", "V6"], "range": ["#ff0000", "#0000ff", "#7a2ca0", "#ffa21f", "#1ee8f5", "#ff00ff"]}, "legend": null},
           "detail": {"field": "c"}}},
        {"data": {"name": "lab"}, "transform": [{"filter": "datum.p == 'a' && datum.r == 'm'"}],
         "mark": {"type": "text", "align": "left", "baseline": "alphabetic", "fontSize": 30},
         "encoding": {"x": {"field": "q", "type": "quantitative", "axis": null}, "y": {"field": "I", "type": "quantitative", "axis": null}, "text": {"field": "t"}}},
        {"data": {"name": "lab"}, "transform": [{"filter": "datum.p == 'a' && datum.r == 's'"}],
         "mark": {"type": "text", "align": "left", "baseline": "alphabetic", "fontSize": 20},
         "encoding": {"x": {"field": "q", "type": "quantitative", "axis": null}, "y": {"field": "I", "type": "quantitative", "axis": null}, "text": {"field": "t"}}}
      ]
    },
    {
      "width": 311, "height": 309,
      "data": {"name": "b"},
      "resolve": {"axis": {"x": "independent", "y": "independent"}},
      "layer": [
        {"transform": [{"filter": "datum.s == 'exp'"}],
         "mark": {"type": "line", "color": "black", "strokeWidth": 5, "interpolate": "monotone"},
         "encoding": {
           "x": {"field": "q", "type": "quantitative", "scale": {"type": "log", "domain": [0.0267, 0.473], "nice": false},
                 "axis": {"orient": "bottom", "values": [0.1], "labelExpr": "'10⁻¹'", "tickSize": -10, "tickWidth": 1.5, "labelPadding": 21, "title": null}},
           "y": {"field": "I", "type": "quantitative", "scale": {"type": "log", "domain": [0.0000824, 10810], "nice": false},
                 "axis": {"orient": "left", "values": [0.01, 10, 10000], "labelExpr": "datum.value < 1 ? '10⁻²' : datum.value < 100 ? '10¹' : '10⁴'", "tickSize": -10, "tickWidth": 1.5, "labelPadding": 16, "title": "I(q)", "titleAngle": 0, "titleX": -112.5, "titleY": 153, "titleAlign": "center", "titleBaseline": "alphabetic", "titleFontSize": 30}},
           "detail": {"field": "c"}}},
        {"transform": [{"filter": "datum.s == 'exp'"}],
         "mark": {"type": "errorbar", "color": "black", "thickness": 1.3, "size": 10, "ticks": true},
         "encoding": {"x": {"field": "q", "type": "quantitative", "axis": null}, "y": {"field": "I", "type": "quantitative", "axis": null}, "yError": {"field": "e"}}},
        {"transform": [{"filter": "datum.s == 'V1'"}],
         "mark": {"type": "line", "strokeWidth": 6, "interpolate": "monotone"},
         "encoding": {
           "x": {"field": "q", "type": "quantitative", "axis": {"orient": "bottom", "values": [0.03, 0.04, 0.05, 0.06, 0.07, 0.08, 0.09, 0.2, 0.3, 0.4], "labels": false, "tickSize": -5, "tickWidth": 1.2, "title": null}},
           "y": {"field": "I", "type": "quantitative", "axis": {"orient": "left", "labels": false, "ticks": false, "title": "b)", "titleAngle": 0, "titleX": -124.3, "titleY": 8.7, "titleAlign": "left", "titleBaseline": "alphabetic", "titleFontSize": 31}},
           "color": {"field": "s", "type": "nominal", "scale": {"domain": ["V1", "V2", "V3", "V4", "V5", "V6"], "range": ["#ff0000", "#0000ff", "#7a2ca0", "#ffa21f", "#1ee8f5", "#ff00ff"]}, "legend": null},
           "detail": {"field": "c"}}},
        {"transform": [{"filter": "datum.s == 'V2'"}],
         "mark": {"type": "line", "strokeWidth": 6, "interpolate": "monotone"},
         "encoding": {
           "x": {"field": "q", "type": "quantitative", "axis": {"orient": "top", "labels": false, "ticks": false, "title": "2mM, 45°C", "titleX": 140.4, "titleY": -130.3, "titleAlign": "center", "titleBaseline": "alphabetic", "titleFontSize": 40}},
           "y": {"field": "I", "type": "quantitative", "axis": null},
           "color": {"field": "s", "type": "nominal", "scale": {"domain": ["V1", "V2", "V3", "V4", "V5", "V6"], "range": ["#ff0000", "#0000ff", "#7a2ca0", "#ffa21f", "#1ee8f5", "#ff00ff"]}, "legend": null},
           "detail": {"field": "c"}}},
        {"transform": [{"filter": "datum.s == 'V3'"}],
         "mark": {"type": "line", "strokeWidth": 6, "interpolate": "monotone"},
         "encoding": {
           "x": {"field": "q", "type": "quantitative", "axis": null},
           "y": {"field": "I", "type": "quantitative", "axis": null},
           "color": {"field": "s", "type": "nominal", "scale": {"domain": ["V1", "V2", "V3", "V4", "V5", "V6"], "range": ["#ff0000", "#0000ff", "#7a2ca0", "#ffa21f", "#1ee8f5", "#ff00ff"]}, "legend": null},
           "detail": {"field": "c"}}},
        {"data": {"name": "lab"}, "transform": [{"filter": "datum.p == 'b' && datum.r == 'm'"}],
         "mark": {"type": "text", "align": "left", "baseline": "alphabetic", "fontSize": 30},
         "encoding": {"x": {"field": "q", "type": "quantitative", "axis": null}, "y": {"field": "I", "type": "quantitative", "axis": null}, "text": {"field": "t"}}},
        {"data": {"name": "lab"}, "transform": [{"filter": "datum.p == 'b' && datum.r == 's'"}],
         "mark": {"type": "text", "align": "left", "baseline": "alphabetic", "fontSize": 20},
         "encoding": {"x": {"field": "q", "type": "quantitative", "axis": null}, "y": {"field": "I", "type": "quantitative", "axis": null}, "text": {"field": "t"}}}
      ]
    },
    {
      "width": 311, "height": 309,
      "data": {"name": "c"},
      "resolve": {"axis": {"x": "independent", "y": "independent"}},
      "layer": [
        {"transform": [{"filter": "datum.s == 'exp'"}],
         "mark": {"type": "line", "color": "black", "strokeWidth": 5, "interpolate": "monotone"},
         "encoding": {
           "x": {"field": "q", "type": "quantitative", "scale": {"type": "log", "domain": [0.0267, 0.473], "nice": false},
                 "axis": {"orient": "bottom", "values": [0.1], "labelExpr": "'10⁻¹'", "tickSize": -10, "tickWidth": 1.5, "labelPadding": 21, "title": "q (nm⁻¹)", "titleX": 157.5, "titleY": 88, "titleAlign": "center", "titleBaseline": "alphabetic", "titleFontSize": 33}},
           "y": {"field": "I", "type": "quantitative", "scale": {"type": "log", "domain": [0.00013, 12680], "nice": false},
                 "axis": {"orient": "left", "values": [0.1, 100], "labelExpr": "datum.value < 1 ? '10⁻¹' : '10²'", "tickSize": -10, "tickWidth": 1.5, "labelPadding": 16, "title": "I(q)", "titleAngle": 0, "titleX": -112, "titleY": 163.7, "titleAlign": "center", "titleBaseline": "alphabetic", "titleFontSize": 30}},
           "detail": {"field": "c"}}},
        {"transform": [{"filter": "datum.s == 'exp'"}],
         "mark": {"type": "errorbar", "color": "black", "thickness": 1.3, "size": 10, "ticks": true},
         "encoding": {"x": {"field": "q", "type": "quantitative", "axis": null}, "y": {"field": "I", "type": "quantitative", "axis": null}, "yError": {"field": "e"}}},
        {"transform": [{"filter": "datum.s == 'V4'"}],
         "mark": {"type": "line", "strokeWidth": 6, "interpolate": "monotone"},
         "encoding": {
           "x": {"field": "q", "type": "quantitative", "axis": {"orient": "bottom", "values": [0.03, 0.04, 0.05, 0.06, 0.07, 0.08, 0.09, 0.2, 0.3, 0.4], "labels": false, "tickSize": -5, "tickWidth": 1.2, "title": null}},
           "y": {"field": "I", "type": "quantitative", "axis": {"orient": "left", "labels": false, "ticks": false, "title": "c)", "titleAngle": 0, "titleX": -176.3, "titleY": -5.5, "titleAlign": "left", "titleBaseline": "alphabetic", "titleFontSize": 31}},
           "color": {"field": "s", "type": "nominal", "scale": {"domain": ["V1", "V2", "V3", "V4", "V5", "V6"], "range": ["#ff0000", "#0000ff", "#7a2ca0", "#ffa21f", "#1ee8f5", "#ff00ff"]}, "legend": null},
           "detail": {"field": "c"}}},
        {"transform": [{"filter": "datum.s == 'V5'"}],
         "mark": {"type": "line", "strokeWidth": 6, "interpolate": "monotone"},
         "encoding": {
           "x": {"field": "q", "type": "quantitative", "axis": {"orient": "top", "labels": false, "ticks": false, "title": "Overlap allowed", "titleX": 365.5, "titleY": -71.5, "titleAlign": "center", "titleBaseline": "alphabetic", "titleFontSize": 41}},
           "y": {"field": "I", "type": "quantitative", "axis": null},
           "color": {"field": "s", "type": "nominal", "scale": {"domain": ["V1", "V2", "V3", "V4", "V5", "V6"], "range": ["#ff0000", "#0000ff", "#7a2ca0", "#ffa21f", "#1ee8f5", "#ff00ff"]}, "legend": null},
           "detail": {"field": "c"}}},
        {"transform": [{"filter": "datum.s == 'V6'"}],
         "mark": {"type": "line", "strokeWidth": 6, "interpolate": "monotone"},
         "encoding": {
           "x": {"field": "q", "type": "quantitative", "axis": null},
           "y": {"field": "I", "type": "quantitative", "axis": null},
           "color": {"field": "s", "type": "nominal", "scale": {"domain": ["V1", "V2", "V3", "V4", "V5", "V6"], "range": ["#ff0000", "#0000ff", "#7a2ca0", "#ffa21f", "#1ee8f5", "#ff00ff"]}, "legend": null},
           "detail": {"field": "c"}}},
        {"data": {"name": "lab"}, "transform": [{"filter": "datum.p == 'c' && datum.r == 'm'"}],
         "mark": {"type": "text", "align": "left", "baseline": "alphabetic", "fontSize": 30},
         "encoding": {"x": {"field": "q", "type": "quantitative", "axis": null}, "y": {"field": "I", "type": "quantitative", "axis": null}, "text": {"field": "t"}}},
        {"data": {"name": "lab"}, "transform": [{"filter": "datum.p == 'c' && datum.r == 's'"}],
         "mark": {"type": "text", "align": "left", "baseline": "alphabetic", "fontSize": 20},
         "encoding": {"x": {"field": "q", "type": "quantitative", "axis": null}, "y": {"field": "I", "type": "quantitative", "axis": null}, "text": {"field": "t"}}}
      ]
    },
    {
      "width": 311, "height": 309,
      "data": {"name": "d"},
      "resolve": {"axis": {"x": "independent", "y": "independent"}},
      "layer": [
        {"transform": [{"filter": "datum.s == 'exp'"}],
         "mark": {"type": "line", "color": "black", "strokeWidth": 5, "interpolate": "monotone"},
         "encoding": {
           "x": {"field": "q", "type": "quantitative", "scale": {"type": "log", "domain": [0.0267, 0.473], "nice": false},
                 "axis": {"orient": "bottom", "values": [0.1], "labelExpr": "'10⁻¹'", "tickSize": -10, "tickWidth": 1.5, "labelPadding": 21, "title": "q (nm⁻¹)", "titleX": 161, "titleY": 88, "titleAlign": "center", "titleBaseline": "alphabetic", "titleFontSize": 33}},
           "y": {"field": "I", "type": "quantitative", "scale": {"type": "log", "domain": [0.000082, 11400], "nice": false},
                 "axis": {"orient": "left", "values": [0.01, 10, 10000], "labelExpr": "datum.value < 1 ? '10⁻²' : datum.value < 100 ? '10¹' : '10⁴'", "tickSize": -10, "tickWidth": 1.5, "labelPadding": 16, "title": "I(q)", "titleAngle": 0, "titleX": -112.5, "titleY": 162.4, "titleAlign": "center", "titleBaseline": "alphabetic", "titleFontSize": 30}},
           "detail": {"field": "c"}}},
        {"transform": [{"filter": "datum.s == 'exp'"}],
         "mark": {"type": "errorbar", "color": "black", "thickness": 1.3, "size": 10, "ticks": true},
         "encoding": {"x": {"field": "q", "type": "quantitative", "axis": null}, "y": {"field": "I", "type": "quantitative", "axis": null}, "yError": {"field": "e"}}},
        {"transform": [{"filter": "datum.s == 'V4'"}],
         "mark": {"type": "line", "strokeWidth": 6, "interpolate": "monotone"},
         "encoding": {
           "x": {"field": "q", "type": "quantitative", "axis": {"orient": "bottom", "values": [0.03, 0.04, 0.05, 0.06, 0.07, 0.08, 0.09, 0.2, 0.3, 0.4], "labels": false, "tickSize": -5, "tickWidth": 1.2, "title": null}},
           "y": {"field": "I", "type": "quantitative", "axis": {"orient": "left", "labels": false, "ticks": false, "title": "d)", "titleAngle": 0, "titleX": -124.3, "titleY": -7, "titleAlign": "left", "titleBaseline": "alphabetic", "titleFontSize": 31}},
           "color": {"field": "s", "type": "nominal", "scale": {"domain": ["V1", "V2", "V3", "V4", "V5", "V6"], "range": ["#ff0000", "#0000ff", "#7a2ca0", "#ffa21f", "#1ee8f5", "#ff00ff"]}, "legend": null},
           "detail": {"field": "c"}}},
        {"transform": [{"filter": "datum.s == 'V5'"}],
         "mark": {"type": "line", "strokeWidth": 6, "interpolate": "monotone"},
         "encoding": {
           "x": {"field": "q", "type": "quantitative", "axis": null},
           "y": {"field": "I", "type": "quantitative", "axis": null},
           "color": {"field": "s", "type": "nominal", "scale": {"domain": ["V1", "V2", "V3", "V4", "V5", "V6"], "range": ["#ff0000", "#0000ff", "#7a2ca0", "#ffa21f", "#1ee8f5", "#ff00ff"]}, "legend": null},
           "detail": {"field": "c"}}},
        {"transform": [{"filter": "datum.s == 'V6'"}],
         "mark": {"type": "line", "strokeWidth": 6, "interpolate": "monotone"},
         "encoding": {
           "x": {"field": "q", "type": "quantitative", "axis": null},
           "y": {"field": "I", "type": "quantitative", "axis": null},
           "color": {"field": "s", "type": "nominal", "scale": {"domain": ["V1", "V2", "V3", "V4", "V5", "V6"], "range": ["#ff0000", "#0000ff", "#7a2ca0", "#ffa21f", "#1ee8f5", "#ff00ff"]}, "legend": null},
           "detail": {"field": "c"}}},
        {"data": {"name": "lab"}, "transform": [{"filter": "datum.p == 'd' && datum.r == 'm'"}],
         "mark": {"type": "text", "align": "left", "baseline": "alphabetic", "fontSize": 30},
         "encoding": {"x": {"field": "q", "type": "quantitative", "axis": null}, "y": {"field": "I", "type": "quantitative", "axis": null}, "text": {"field": "t"}}},
        {"data": {"name": "lab"}, "transform": [{"filter": "datum.p == 'd' && datum.r == 's'"}],
         "mark": {"type": "text", "align": "left", "baseline": "alphabetic", "fontSize": 20},
         "encoding": {"x": {"field": "q", "type": "quantitative", "axis": null}, "y": {"field": "I", "type": "quantitative", "axis": null}, "text": {"field": "t"}}}
      ]
    },
    {
      "width": 311, "height": 91,
      "view": {"stroke": null},
      "data": {"name": "chi"},
      "transform": [{"filter": "datum.b == '30'"}],
      "encoding": {
        "x": {"field": "col", "type": "ordinal", "scale": {"type": "point", "range": [-83, 106], "padding": 0},
              "axis": {"orient": "top", "labels": false, "ticks": false, "title": "I(q) Error", "titleX": 108.5, "titleY": -40.7, "titleAlign": "center", "titleBaseline": "alphabetic", "titleFontSize": 37}},
        "y": {"field": "line", "type": "ordinal", "scale": {"type": "point", "range": [2, 89], "padding": 0}, "axis": null},
        "color": {"field": "v", "type": "nominal", "scale": {"domain": ["V1", "V2", "V3", "V4", "V5", "V6"], "range": ["#ff0000", "#0000f0", "#7030a0", "#ed7d31", "#2ee5f0", "#ff00ff"]}, "legend": null}
      },
      "layer": [
        {"mark": {"type": "text", "text": "χ", "font": "Liberation Serif", "fontStyle": "italic", "fontWeight": "normal", "fontSize": 40, "align": "left", "baseline": "alphabetic"}},
        {"mark": {"type": "text", "text": "2", "fontSize": 26, "align": "left", "baseline": "alphabetic", "dx": 22, "dy": -13}},
        {"mark": {"type": "text", "fontSize": 27, "align": "left", "baseline": "alphabetic", "dx": 36.5, "dy": 8}, "encoding": {"text": {"field": "v"}}},
        {"mark": {"type": "text", "text": "–", "fontSize": 35, "align": "left", "baseline": "alphabetic", "dx": 78}},
        {"mark": {"type": "text", "fontSize": 35, "align": "left", "baseline": "alphabetic", "dx": 110}, "encoding": {"text": {"field": "chi", "type": "quantitative", "format": ".2f"}}}
      ]
    },
    {
      "width": 311, "height": 91,
      "view": {"stroke": null},
      "data": {"name": "chi"},
      "transform": [{"filter": "datum.b == '45'"}],
      "encoding": {
        "x": {"field": "col", "type": "ordinal", "scale": {"type": "point", "range": [-95.3, 118], "padding": 0},
              "axis": {"orient": "top", "labels": false, "ticks": false, "title": "I(q) Error", "titleX": 117.5, "titleY": -40.7, "titleAlign": "center", "titleBaseline": "alphabetic", "titleFontSize": 37}},
        "y": {"field": "line", "type": "ordinal", "scale": {"type": "point", "range": [2, 89], "padding": 0}, "axis": null},
        "color": {"field": "v", "type": "nominal", "scale": {"domain": ["V1", "V2", "V3", "V4", "V5", "V6"], "range": ["#ff0000", "#0000f0", "#7030a0", "#ed7d31", "#2ee5f0", "#ff00ff"]}, "legend": null}
      },
      "layer": [
        {"mark": {"type": "text", "text": "χ", "font": "Liberation Serif", "fontStyle": "italic", "fontWeight": "normal", "fontSize": 40, "align": "left", "baseline": "alphabetic"}},
        {"mark": {"type": "text", "text": "2", "fontSize": 26, "align": "left", "baseline": "alphabetic", "dx": 22, "dy": -13}},
        {"mark": {"type": "text", "fontSize": 27, "align": "left", "baseline": "alphabetic", "dx": 35, "dy": 8}, "encoding": {"text": {"field": "v"}}},
        {"mark": {"type": "text", "text": "–", "fontSize": 35, "align": "left", "baseline": "alphabetic", "dx": 75}},
        {"mark": {"type": "text", "fontSize": 35, "align": "left", "baseline": "alphabetic", "dx": 105}, "encoding": {"text": {"field": "chi", "type": "quantitative", "format": ".2f"}}}
      ]
    }
  ]
}
